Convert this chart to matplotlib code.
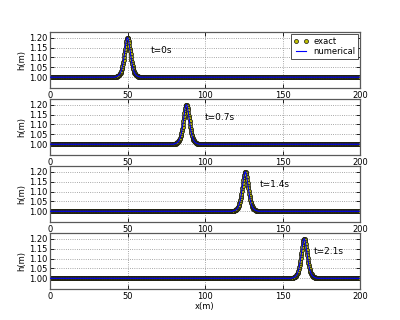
import numpy as np
import matplotlib
matplotlib.use("Agg")
import matplotlib.pyplot as plt

# ---- data ----
times = [0.0, 0.7, 1.4, 2.1]
time_labels = ["t=0s", "t=0.7s", "t=1.4s", "t=2.1s"]
peak_positions = [50, 88, 126, 164]
still_depth = 1.0
grid_step = 0.25
# half wave profile: crest (offset 0) out to 8 m, 0.25 m step;
# the wave is symmetric about its crest
half_profile = [1.2000, 1.1981, 1.1927, 1.1841, 1.1728, 1.1596, 1.1453, 1.1304,
                1.1157, 1.1015, 1.0882, 1.0760, 1.0651, 1.0553, 1.0468, 1.0395,
                1.0331, 1.0277, 1.0231, 1.0193, 1.0160, 1.0133, 1.0110, 1.0091,
                1.0075, 1.0062, 1.0052, 1.0043, 1.0035, 1.0029, 1.0024, 1.0020,
                1.0016]
xticks = [0, 50, 100, 150, 200]
yticks = [1.00, 1.05, 1.10, 1.15, 1.20]

plt.rcParams.update({
    "font.family": "DejaVu Sans",
    "font.size": 6,
})

fig, axes = plt.subplots(4, 1, figsize=(4, 3.2), dpi=100)
fig.subplots_adjust(left=0.125, right=0.9, top=0.9, bottom=0.097, hspace=0.2)

profile = half_profile[:0:-1] + half_profile
half = len(half_profile) - 1
n_pts = int(round(200 / grid_step)) + 1
x = np.linspace(0, 200, n_pts)
for i, ax in enumerate(axes):
    h = np.full_like(x, still_depth)
    c = int(round(peak_positions[i] / grid_step))
    for k, val in enumerate(profile):
        idx = c - half + k
        if 0 <= idx < len(h):
            h[idx] = val
    ax.plot(x, h, linestyle="none", marker="o", markersize=2.9,
            markerfacecolor=(0.75, 0.75, 0), markeredgecolor="0.08",
            markeredgewidth=0.55, label="exact", zorder=2)
    ax.plot(x, h, color="b", linewidth=0.8, label="numerical", zorder=3)
    ax.set_xlim(0, 200)
    ax.set_ylim(0.946, 1.229)
    ax.set_xticks(xticks)
    ax.set_yticks(yticks)
    ax.set_yticklabels([f"{v:.2f}" for v in yticks])
    ax.grid(True, color="0.55", linestyle=":", linewidth=0.6)
    ax.set_axisbelow(True)
    ax.set_ylabel("h(m)", labelpad=2)
    ax.tick_params(length=3, width=0.6, pad=2, direction="in", top=True, right=True)
    for s in ax.spines.values():
        s.set_linewidth(0.9)
        s.set_color("0.35")
    ax.text(65 + 50 * times[i], 1.135, time_labels[i], fontsize=6.5,
            va="center", ha="left")
    if i == 0:
        leg = ax.legend(loc="upper right", numpoints=2, fancybox=False,
                        framealpha=1, edgecolor="0.2", fontsize=6,
                        borderaxespad=0.25, handlelength=1.8, handletextpad=0.6,
                        borderpad=0.3, labelspacing=0.2)
        leg.get_frame().set_linewidth(0.6)
        for hnd in leg.legend_handles:
            if hnd.get_label() == "exact":
                hnd.set_markeredgewidth(0.5)

axes[-1].set_xlabel("x(m)", labelpad=1)

fig.savefig("out.png", dpi=100)
